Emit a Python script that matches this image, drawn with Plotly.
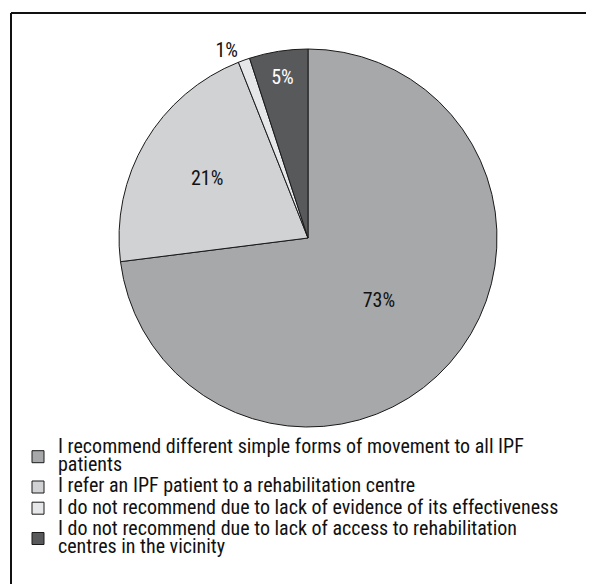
import plotly.graph_objects as go

labels = [
    "I recommend different simple forms of movement to all IPF<br>patients",
    "I refer an IPF patient to a rehabilitation centre",
    "I do not recommend due to lack of evidence of its effectiveness",
    "I do not recommend due to lack of access to rehabilitation<br>centres in the vicinity",
]
values = [73, 21, 1, 5]
colors = ["#a7a8aa", "#d1d2d4", "#e6e7e8", "#58595b"]
text_colors = ["#111111", "#111111", "#111111", "#ffffff"]
text_positions = ["inside", "inside", "outside", "inside"]

OFF = 8  # page body margin
W, H = 594 - OFF, 584 - OFF
cx, cy, r = 308 - OFF, 238 - OFF, 189

FONT = "Roboto Condensed, Liberation Sans Narrow, Arial Narrow, sans-serif"
BIG = 20
WEIGHT = 400


def big(s):
    return "<br>".join(f'<span style="font-size:{BIG}px">{p}</span>' for p in s.split("<br>"))


fig = go.Figure(go.Pie(
    labels=[big(l) for l in labels],
    values=values,
    sort=False,
    direction="clockwise",
    rotation=0,
    marker=dict(colors=colors, line=dict(color="#1a1a1a", width=1)),
    texttemplate="%{value}%",
    textposition=text_positions,
    insidetextfont=dict(color=text_colors, size=BIG, family=FONT, weight=WEIGHT),
    outsidetextfont=dict(color="#111111", size=BIG, family=FONT, weight=WEIGHT),
    insidetextorientation="horizontal",
    domain=dict(x=[(cx - r) / W, (cx + r) / W], y=[1 - (cy + r) / H, 1 - (cy - r) / H]),
    hoverinfo="skip",
))

fig.update_layout(
    width=W, height=H,
    margin=dict(l=0, r=0, t=0, b=0),
    paper_bgcolor="white",
    font=dict(family=FONT, size=BIG, color="#111111", weight=WEIGHT),
    showlegend=True,
    legend=dict(
        x=(18 - OFF) / W, y=1 - (432 - OFF) / H, xanchor="left", yanchor="top",
        font=dict(size=14, family=FONT, color="#111111", weight=WEIGHT),
        bgcolor="rgba(0,0,0,0)", tracegroupgap=0,
    ),
    shapes=[
        dict(type="line", xref="paper", yref="paper", x0=(11 - OFF) / W, x1=1.02, y0=1 - (13 - OFF) / H,
             y1=1 - (13 - OFF) / H, line=dict(color="#111111", width=2)),
        dict(type="line", xref="paper", yref="paper", x0=(11 - OFF) / W, x1=(11 - OFF) / W, y0=-0.02,
             y1=1 - (13 - OFF) / H, line=dict(color="#111111", width=2)),
    ],
)

fig.write_html("out.html")
